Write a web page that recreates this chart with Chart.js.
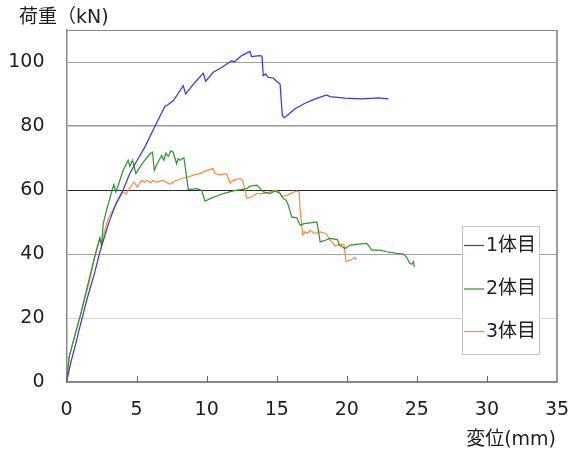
<!DOCTYPE html>
<html lang="ja">
<head>
<meta charset="utf-8">
<title>荷重-変位曲線</title>
<script src="https://cdn.jsdelivr.net/npm/chart.js@4/dist/chart.umd.min.js"></script>
<style>
  html, body { margin: 0; padding: 0; background: #ffffff; }
  #wrap { width: 569px; height: 454px; }
</style>
</head>
<body>
<div id="wrap"><canvas id="c" width="569" height="454"></canvas></div>
<script>
// Specimen names
const seriesNames = ['1体目', '2体目', '3体目'];

// Axis settings
const xTickValues = [0, 5, 10, 15, 20, 25, 30, 35];
const yTickValues = [0, 20, 40, 60, 80, 100];
const yAxisTitle = '荷重（kN)';
const xAxisTitle = '変位(mm)';

// Specimen 1: displacement (mm) / load (kN)
const disp1 = [0, 0.3, 0.6, 1.0, 1.5, 2.0, 2.4, 3.0, 3.5, 4.04, 4.5, 5.0, 5.59, 6.31, 7.02, 7.26, 7.62, 8.33, 8.5, 9.16,
  9.76, 9.93, 10.47, 11.07, 11.79, 11.97, 12.5, 13.09, 13.2, 13.8, 13.95, 14.04, 14.2, 14.4, 14.76, 15.0, 15.24, 15.4,
  15.54, 15.83, 16.3, 17.02, 17.7, 18.57, 18.8, 19.88, 21.07, 22.26, 22.97];
const load1 = [0, 6, 11, 18, 26.5, 34, 41, 49.5, 55.5, 60, 65, 69, 73.4, 79.9, 86.1, 86.7, 87.9, 92.6, 90.0, 93.6,
  96.5, 94.0, 96.8, 98.3, 100.4, 100.0, 102.0, 103.3, 101.7, 102.0, 101.8, 95.7, 96.3, 95.2, 95.0, 93.9, 93.1, 83.3,
  82.6, 83.6, 85.4, 87.1, 88.4, 89.7, 89.2, 88.7, 88.5, 88.8, 88.5];

// Specimen 2
const disp2 = [0, 0.2, 0.5, 1.0, 1.5, 2.0, 2.38, 2.5, 2.62, 2.86, 3.28, 3.38, 3.52, 3.69, 4.04, 4.4, 4.52, 4.71, 4.95, 5.24,
  5.59, 5.95, 6.14, 6.26, 6.47, 6.79, 6.95, 7.09, 7.26, 7.45, 7.61, 7.86, 7.97, 8.09, 8.38, 8.69, 9.29, 9.64, 9.88, 10.24,
  11.19, 11.9, 12.86, 13.09, 13.6, 14.04, 14.52, 14.88, 15.24, 15.47, 15.67, 15.83, 16.07, 16.43, 16.67, 16.95, 17.38,
  17.86, 17.97, 18.1, 18.45, 18.81, 19.33, 19.47, 19.88, 20.24, 20.83, 21.43, 21.79, 22.38, 22.86, 23.57, 24.05, 24.29,
  24.48, 24.64, 24.76, 24.81];
const load2 = [0, 8, 13, 21, 30, 39, 45, 42.5, 49.5, 53.7, 60.4, 61.7, 59.4, 61.5, 66.1, 69.3, 67.4, 69.3, 65.1, 67.2,
  69.3, 71.3, 71.8, 66.1, 68.2, 70.8, 69.3, 71.5, 70.5, 72.2, 71.8, 68.2, 69.8, 69.3, 70.1, 60.1, 60.4, 59.9, 56.5, 57.3,
  58.9, 59.7, 60.4, 61.2, 61.5, 59.4, 58.9, 59.7, 58.9, 57.3, 56.8, 55.2, 51.6, 51.3, 49.0, 49.5, 49.7,
  50.0, 47.4, 43.8, 44.3, 44.9, 44.5, 42.8, 41.7, 42.8, 43.1, 43.3, 41.2, 41.2, 40.7, 40.2, 40.0, 38.9,
  37.1, 36.8, 37.6, 36.0];

// Specimen 3
const disp3 = [0, 0.2, 0.5, 1.0, 1.3, 1.66, 2.02, 2.38, 2.5, 2.97, 3.45, 3.81, 4.04, 4.24, 4.52, 4.81, 5.05, 5.36, 5.59, 5.76,
  6.0, 6.19, 6.43, 6.9, 7.38, 7.74, 8.21, 8.69, 9.16, 9.52, 9.88, 10.47, 10.6, 10.95, 11.43, 11.66, 11.9, 12.38, 12.57,
  12.86, 13.09, 13.57, 14.04, 14.52, 14.88, 15.19, 15.36, 15.71, 16.43, 16.6, 16.67, 16.86, 17.02, 17.19, 17.38, 17.74,
  18.1, 18.52, 18.81, 19.17, 19.33, 19.64, 19.8, 19.95, 20.24, 20.48, 20.6, 20.67];
const load3 = [0, 8, 13, 21, 26, 32, 39.1, 44.9, 43.5, 51.1, 54.7, 57.8, 59.4, 58.7, 60.7, 62.5, 60.9, 63.0, 62.5, 63.0,
  62.3, 63.0, 62.5, 63.0, 61.8, 62.8, 63.6, 64.1, 64.8, 65.1, 65.9, 66.7, 65.1, 64.8, 65.1, 62.2, 63.0, 63.6, 63.0,
  57.5, 57.6, 58.9, 58.9, 59.4, 59.9, 59.4, 58.0, 58.3, 59.7, 59.3, 53.7, 45.9, 46.9, 46.4, 47.4, 46.4,
  46.9, 46.4, 44.3, 42.5, 42.8, 43.1, 42.8, 37.6, 38.1, 38.6, 38.9, 38.1];

const seriesColors = ['#3535ff', '#2f962f', '#ff8a3d'];
const FONT = '"DejaVu Sans", "Noto Sans CJK JP", sans-serif';
const TEXT = '#1e1e1e';

function toPoints(xs, ys) {
  return xs.map((x, i) => ({ x: x, y: ys[i] }));
}

const allDisp = [disp1, disp2, disp3];
const allLoad = [load1, load2, load3];

const datasets = seriesNames.map((name, i) => ({
  label: name,
  data: toPoints(allDisp[i], allLoad[i]),
  showLine: true,
  borderColor: seriesColors[i],
  backgroundColor: seriesColors[i],
  borderWidth: 1.25,
  pointRadius: 0,
  tension: 0,
  fill: false
}));

// gridline colour for each load level
const gridColors = { 0: '#888888', 20: '#d6d6d6', 40: '#a2a2a2', 60: '#2a2a2a', 80: '#9a9a9a', 100: '#a0a0a0', 110: '#8a8a8a' };
const gridWidths = { 80: 1.5 };

// frame, inner tick marks, axis titles and the boxed legend
const decorations = {
  id: 'decorations',
  afterDraw(chart) {
    const ctx = chart.ctx;
    const area = chart.chartArea;
    const xs = chart.scales.x;
    ctx.save();

    // right edge of the plotting frame
    ctx.strokeStyle = '#7a7a7a';
    ctx.lineWidth = 1.5;
    ctx.beginPath();
    ctx.moveTo(area.right, area.top);
    ctx.lineTo(area.right, area.bottom);
    ctx.stroke();

    // tick marks pointing into the plot
    ctx.strokeStyle = '#666666';
    ctx.lineWidth = 1;
    xTickValues.forEach(v => {
      if (v === xTickValues[0] || v === xTickValues[xTickValues.length - 1]) return;
      const px = Math.round(xs.getPixelForValue(v)) + 0.5;
      ctx.beginPath();
      ctx.moveTo(px, area.bottom);
      ctx.lineTo(px, area.bottom - 6);
      ctx.stroke();
    });

    // axis titles
    ctx.fillStyle = TEXT;
    ctx.font = '19px ' + FONT;
    ctx.textBaseline = 'middle';
    ctx.textAlign = 'left';
    ctx.fillText(yAxisTitle, 19, 18);
    ctx.textAlign = 'right';
    ctx.fillText(xAxisTitle, 556, 440);

    // legend
    const bx = 462, by = 226, bw = 77, bh = 128;
    ctx.fillStyle = '#ffffff';
    ctx.fillRect(bx, by, bw, bh);
    ctx.strokeStyle = '#c4c4c4';
    ctx.lineWidth = 1;
    ctx.strokeRect(bx + 0.5, by + 0.5, bw, bh);
    const rows = [245, 288.5, 331];
    chart.data.datasets.forEach((ds, i) => {
      const y = rows[i];
      ctx.strokeStyle = ds.borderColor;
      ctx.lineWidth = 1.25;
      ctx.beginPath();
      ctx.moveTo(464, y + 0.5);
      ctx.lineTo(484, y + 0.5);
      ctx.stroke();
      ctx.fillStyle = TEXT;
      ctx.textAlign = 'left';
      ctx.textBaseline = 'middle';
      ctx.font = '19px ' + FONT;
      ctx.fillText(ds.label, 486, y + 1);
    });
    ctx.restore();
  }
};

new Chart(document.getElementById('c'), {
  type: 'scatter',
  data: { datasets: datasets },
  options: {
    responsive: false,
    animation: false,
    layout: { padding: { top: 30, right: 12, left: 0, bottom: 0 } },
    plugins: {
      legend: { display: false },
      tooltip: { enabled: false },
      title: { display: false }
    },
    scales: {
      x: {
        type: 'linear',
        min: 0,
        max: 35,
        afterBuildTicks(scale) {
          scale.ticks = xTickValues.map(v => ({ value: v }));
        },
        grid: { display: false, drawTicks: false },
        border: { display: true, color: '#888888', width: 1.5 },
        ticks: {
          color: TEXT,
          font: { family: FONT, size: 19 },
          padding: 17,
          maxRotation: 0,
          autoSkip: false
        },
        afterFit(scale) {
          scale.height = 72;
          scale.paddingLeft = 0;
          scale.paddingRight = 0;
        }
      },
      y: {
        type: 'linear',
        min: 0,
        max: 110,
        afterBuildTicks(scale) {
          scale.ticks = yTickValues.concat([110]).map(v => ({ value: v }));
        },
        grid: {
          drawTicks: false,
          color: c => gridColors[c.tick.value] || '#999999',
          lineWidth: c => gridWidths[c.tick.value] || 1
        },
        border: { display: true, color: '#888888', width: 1.5 },
        ticks: {
          color: TEXT,
          font: { family: FONT, size: 19 },
          padding: 22,
          callback: v => (yTickValues.includes(v) ? String(v) : '')
        },
        afterFit(scale) {
          scale.width = 66.5;
          scale.paddingTop = 0;
          scale.paddingBottom = 0;
        }
      }
    }
  },
  plugins: [decorations]
});
</script>
</body>
</html>
